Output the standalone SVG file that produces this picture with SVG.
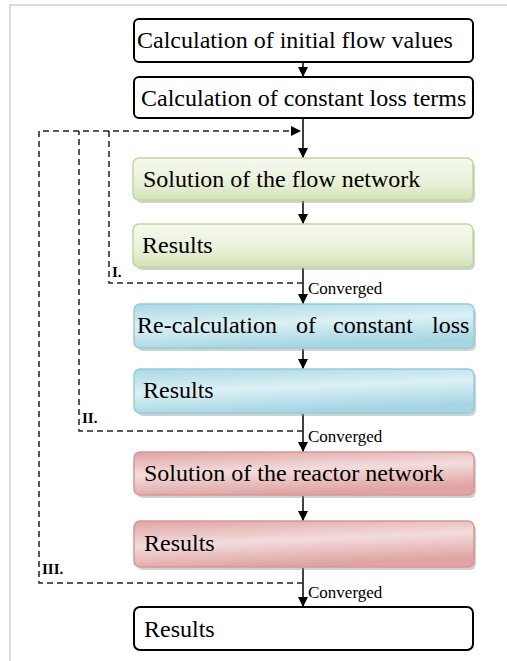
<svg xmlns="http://www.w3.org/2000/svg" width="507" height="661" viewBox="0 0 507 661">
<defs>
<linearGradient id="gG" x1="0" y1="0" x2="0" y2="1"><stop offset="0" stop-color="#f6f9ef"/><stop offset="0.6" stop-color="#e8f0d8"/><stop offset="1" stop-color="#d4e2b6"/></linearGradient>
<linearGradient id="gB" x1="0" y1="0" x2="0.3" y2="1"><stop offset="0" stop-color="#a9d8e4"/><stop offset="0.5" stop-color="#dcf0f5"/><stop offset="1" stop-color="#a6d6e3"/></linearGradient>
<linearGradient id="gR" x1="0" y1="0" x2="0.3" y2="1"><stop offset="0" stop-color="#dfa4a3"/><stop offset="0.5" stop-color="#f3dcdc"/><stop offset="1" stop-color="#dfa4a3"/></linearGradient>
<marker id="ah" viewBox="0 0 10 10" refX="10" refY="5" markerWidth="10" markerHeight="10" markerUnits="userSpaceOnUse" orient="auto"><path d="M0,0 L10,5 L0,10 z" fill="#000"/></marker>
</defs>
<style>
.t{font-family:"Liberation Serif","Times New Roman",serif;font-size:24px;fill:#000}
.s{font-family:"Liberation Serif","Times New Roman",serif;font-size:17px;fill:#000}
.lab{font-family:"Liberation Serif","Times New Roman",serif;font-size:15px;font-weight:bold;fill:#000}
.plain{fill:#fff;stroke:#000;stroke-width:2}
.sh{fill:#9a9a9a;opacity:0.45}
.g{fill:url(#gG);stroke:#c3d69b;stroke-width:1.5}
.b{fill:url(#gB);stroke:#93cddd;stroke-width:1.5}
.r{fill:url(#gR);stroke:#d99694;stroke-width:1.5}
.ln{stroke:#000;stroke-width:1.5;fill:none}
.d{stroke:#222;stroke-width:1.5;fill:none;stroke-dasharray:6,4}
</style>
<rect width="507" height="661" fill="#fff"/>
<path d="M10,661 V5 H507" fill="none" stroke="#d0d0d0" stroke-width="1.5"/>

<g id="connectors">
<line class="ln" x1="303" y1="62" x2="303" y2="77" marker-end="url(#ah)"/>
<line class="ln" x1="303" y1="118" x2="303" y2="158" marker-end="url(#ah)"/>
<line class="ln" x1="303" y1="201" x2="303" y2="224" marker-end="url(#ah)"/>
<line class="ln" x1="303" y1="268" x2="303" y2="304" marker-end="url(#ah)"/>
<line class="ln" x1="303" y1="349" x2="303" y2="369" marker-end="url(#ah)"/>
<line class="ln" x1="303" y1="414" x2="303" y2="452" marker-end="url(#ah)"/>
<line class="ln" x1="303" y1="496" x2="303" y2="521" marker-end="url(#ah)"/>
<line class="ln" x1="303" y1="568" x2="303" y2="607" marker-end="url(#ah)"/>
<path class="d" d="M303,283 H109 V131"/>
<path class="d" d="M303,431 H79 V131"/>
<path class="d" d="M303,583 H39 V131 H301" marker-end="url(#ah)"/>
<text class="lab" x="112" y="277">I.</text>
<text class="lab" x="82" y="423">II.</text>
<text class="lab" x="42" y="574">III.</text>
<text class="s" x="308" y="294">Converged</text>
<text class="s" x="308" y="442">Converged</text>
<text class="s" x="308" y="598">Converged</text>
</g>

<g id="n1"><rect class="plain" x="134" y="19" width="339" height="43" rx="5"/><text class="t" x="137" y="48">Calculation of initial flow values</text></g>
<g id="n2"><rect class="plain" x="134" y="77" width="339" height="41" rx="5"/><text class="t" x="141" y="106">Calculation of constant loss terms</text></g>
<g id="n3"><rect class="sh" x="136" y="161" width="339" height="42" rx="6"/><rect class="g" x="133" y="158" width="340" height="42" rx="6"/><text class="t" x="143" y="187">Solution of the flow network</text></g>
<g id="n4"><rect class="sh" x="136" y="227" width="339" height="43" rx="6"/><rect class="g" x="133" y="224" width="340" height="43" rx="6"/><text class="t" x="142" y="253">Results</text></g>
<g id="n5"><rect class="sh" x="137" y="307" width="339" height="44" rx="6"/><rect class="b" x="134" y="304" width="340" height="44" rx="6"/><text class="t" y="333"><tspan x="137">Re-calculation</tspan><tspan x="296">of</tspan><tspan x="333">constant</tspan><tspan x="432">loss</tspan></text></g>
<g id="n6"><rect class="sh" x="137" y="372" width="339" height="44" rx="6"/><rect class="b" x="134" y="369" width="340" height="44" rx="6"/><text class="t" x="143" y="398">Results</text></g>
<g id="n7"><rect class="sh" x="137" y="455" width="339" height="43" rx="6"/><rect class="r" x="134" y="452" width="340" height="43" rx="6"/><text class="t" x="144" y="481">Solution of the reactor network</text></g>
<g id="n8"><rect class="sh" x="137" y="524" width="339" height="46" rx="6"/><rect class="r" x="134" y="521" width="340" height="46" rx="6"/><text class="t" x="144" y="551">Results</text></g>
<g id="n9"><rect class="plain" x="134" y="607" width="339" height="43" rx="6"/><text class="t" x="144" y="637">Results</text></g>
</svg>
